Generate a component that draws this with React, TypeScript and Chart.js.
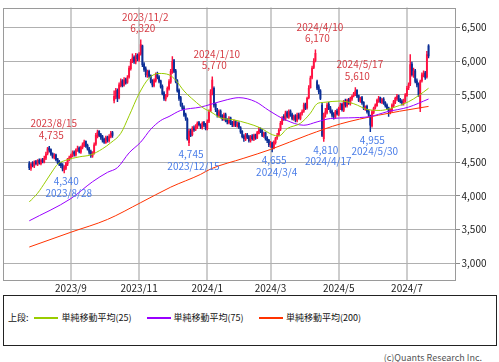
import React, { useEffect, useRef } from 'react';
import { Chart, registerables } from 'chart.js';
Chart.register(...registerables);

// Daily OHLC (trading-day index 0 = 2023/7/27)
const opens = [
  4480, 4410, 4490, 4440, 4510, 4470, 4530, 4480, 4540, 4500,
  4560, 4630, 4710, 4690, 4630, 4570, 4610, 4550, 4510, 4480,
  4460, 4380, 4410, 4470, 4550, 4570, 4600, 4650, 4610, 4690,
  4710, 4650, 4720, 4750, 4810, 4750, 4700, 4660, 4590, 4640,
  4770, 4880, 4960, 4910, 4880, 4840, 4790, 4870, 4820, 4880,
  4940, 5420, 5470, 5570, 5460, 5640, 5710, 5650, 5730, 5690,
  5770, 5890, 6010, 6060, 5990, 6090, 6030, 6110, 6230, 5960,
  5890, 5790, 5850, 5790, 5710, 5640, 5710, 5810, 5770, 5710,
  5630, 5530, 5440, 5490, 5590, 5690, 5840, 6010, 5860, 5710,
  5570, 5460, 5340, 5310, 5210, 5140, 4790, 4970, 4910, 5010,
  4990, 5020, 5090, 5050, 5010, 5090, 5060, 5000, 5110, 5260,
  5560, 5600, 5360, 5270, 5190, 5260, 5190, 5140, 5210, 5130,
  5090, 5160, 5090, 5050, 5110, 5040, 5080, 5010, 4960, 4890,
  4840, 4910, 4880, 4820, 4890, 4840, 4910, 4860, 4930, 4990,
  4970, 4890, 4940, 4860, 4830, 4750, 4790, 4710, 4790, 4860,
  4910, 4990, 5070, 5180, 5140, 5240, 5170, 5260, 5210, 5140,
  5190, 5120, 5210, 5150, 5230, 5260, 5360, 5310, 5460, 5610,
  5760, 5910, 6010, 5700, 5620, 5560, 5350, 4850, 5210, 5240,
  5360, 5310, 5260, 5210, 5170, 5260, 5210, 5290, 5360, 5270,
  5410, 5340, 5430, 5370, 5440, 5490, 5510, 5570, 5490, 5410,
  5460, 5390, 5290, 5330, 5260, 5190, 5040, 5240, 5310, 5340,
  5410, 5460, 5390, 5440, 5390, 5350, 5310, 5240, 5270, 5340,
  5390, 5440, 5490, 5430, 5410, 5370, 5410, 5490, 5610, 5660,
  5960, 5790, 5860, 5710, 5660, 5300, 5710, 5790, 5830, 5770,
  6230,
];
const highs = [
  4510, 4490, 4510, 4520, 4530, 4540, 4550, 4550, 4560, 4590,
  4650, 4720, 4735, 4700, 4640, 4630, 4620, 4560, 4530, 4500,
  4480, 4450, 4500, 4560, 4590, 4620, 4670, 4670, 4700, 4740,
  4730, 4740, 4790, 4830, 4820, 4770, 4720, 4680, 4660, 4790,
  4930, 4980, 4970, 4930, 4900, 4860, 4890, 4890, 4910, 4960,
  4960, 5560, 5600, 5590, 5680, 5740, 5730, 5760, 5750, 5790,
  5930, 6030, 6110, 6080, 6120, 6110, 6130, 6320, 6240, 5980,
  5920, 5870, 5870, 5800, 5730, 5740, 5830, 5840, 5790, 5720,
  5650, 5550, 5510, 5620, 5730, 5880, 6070, 6030, 5880, 5730,
  5590, 5480, 5380, 5340, 5230, 5160, 4990, 4990, 5030, 5040,
  5060, 5100, 5110, 5070, 5100, 5110, 5080, 5130, 5280, 5580,
  5770, 5620, 5380, 5300, 5280, 5280, 5210, 5230, 5230, 5150,
  5180, 5170, 5110, 5130, 5120, 5100, 5100, 5030, 4970, 4910,
  4930, 4930, 4900, 4900, 4910, 4920, 4920, 4960, 5020, 5010,
  4990, 4950, 4950, 4880, 4840, 4810, 4800, 4820, 4870, 4930,
  5000, 5110, 5180, 5210, 5260, 5260, 5280, 5280, 5230, 5200,
  5210, 5230, 5230, 5240, 5280, 5380, 5380, 5470, 5640, 5780,
  5930, 6040, 6170, 5720, 5650, 5580, 5380, 5230, 5300, 5380,
  5390, 5330, 5280, 5240, 5270, 5290, 5320, 5380, 5380, 5420,
  5440, 5440, 5450, 5470, 5500, 5540, 5610, 5580, 5500, 5470,
  5480, 5400, 5340, 5350, 5280, 5200, 5270, 5320, 5370, 5440,
  5480, 5470, 5450, 5460, 5400, 5370, 5320, 5290, 5370, 5420,
  5470, 5510, 5500, 5450, 5430, 5440, 5520, 5630, 5680, 6100,
  5990, 5900, 5880, 5740, 5680, 5720, 5830, 5860, 5850, 6150,
  6250,
];
const lows = [
  4390, 4380, 4430, 4420, 4460, 4450, 4470, 4460, 4490, 4490,
  4540, 4610, 4650, 4600, 4560, 4550, 4520, 4480, 4450, 4420,
  4370, 4340, 4390, 4450, 4520, 4550, 4580, 4590, 4590, 4660,
  4640, 4630, 4700, 4730, 4720, 4680, 4620, 4570, 4570, 4620,
  4750, 4860, 4880, 4840, 4800, 4780, 4780, 4800, 4800, 4860,
  4870, 5380, 5440, 5400, 5440, 5620, 5620, 5630, 5660, 5670,
  5750, 5870, 5980, 5970, 5960, 6010, 6000, 6090, 5920, 5850,
  5770, 5760, 5760, 5680, 5620, 5620, 5690, 5740, 5680, 5600,
  5500, 5420, 5410, 5470, 5570, 5670, 5820, 5830, 5680, 5540,
  5420, 5330, 5280, 5180, 5120, 4830, 4745, 4880, 4890, 4960,
  4970, 5000, 5040, 5000, 4990, 5030, 4980, 4980, 5090, 5250,
  5500, 5320, 5250, 5170, 5170, 5160, 5120, 5120, 5100, 5070,
  5070, 5060, 5030, 5030, 5030, 5020, 5000, 4930, 4860, 4810,
  4820, 4850, 4800, 4800, 4830, 4820, 4840, 4850, 4920, 4940,
  4880, 4870, 4830, 4790, 4730, 4720, 4655, 4700, 4770, 4840,
  4890, 4970, 5060, 5120, 5120, 5160, 5150, 5180, 5130, 5120,
  5100, 5100, 5140, 5130, 5200, 5240, 5280, 5290, 5440, 5600,
  5740, 5890, 5990, 5580, 5520, 5430, 4880, 4810, 5170, 5220,
  5280, 5230, 5170, 5140, 5150, 5200, 5190, 5280, 5260, 5250,
  5320, 5320, 5360, 5350, 5420, 5470, 5490, 5460, 5400, 5390,
  5360, 5280, 5270, 5230, 5180, 4955, 5020, 5220, 5290, 5330,
  5390, 5380, 5370, 5360, 5320, 5280, 5180, 5220, 5250, 5320,
  5370, 5420, 5400, 5380, 5350, 5350, 5390, 5480, 5580, 5640,
  5780, 5760, 5680, 5620, 5480, 5250, 5690, 5770, 5730, 5750,
  6050,
];
const closes = [
  4420, 4470, 4450, 4500, 4480, 4520, 4490, 4530, 4510, 4560,
  4620, 4700, 4680, 4620, 4580, 4600, 4540, 4500, 4470, 4450,
  4400, 4420, 4480, 4540, 4560, 4600, 4640, 4620, 4680, 4700,
  4660, 4720, 4760, 4800, 4740, 4700, 4650, 4600, 4640, 4760,
  4900, 4950, 4900, 4870, 4830, 4800, 4860, 4830, 4880, 4930,
  4900, 5480, 5560, 5450, 5650, 5700, 5640, 5720, 5680, 5760,
  5900, 6000, 6050, 6000, 6080, 6040, 6100, 6250, 5950, 5880,
  5800, 5840, 5780, 5700, 5650, 5720, 5800, 5760, 5700, 5620,
  5520, 5450, 5480, 5600, 5700, 5850, 6000, 5850, 5700, 5560,
  5450, 5350, 5300, 5200, 5150, 4850, 4960, 4900, 5000, 4980,
  5030, 5080, 5060, 5020, 5080, 5050, 5000, 5100, 5250, 5550,
  5720, 5350, 5280, 5200, 5250, 5180, 5150, 5200, 5120, 5100,
  5150, 5080, 5060, 5100, 5050, 5070, 5020, 4950, 4880, 4850,
  4900, 4870, 4820, 4880, 4850, 4900, 4860, 4940, 4980, 4960,
  4900, 4930, 4850, 4820, 4760, 4780, 4720, 4800, 4850, 4900,
  4980, 5080, 5150, 5150, 5230, 5180, 5250, 5200, 5150, 5180,
  5130, 5200, 5160, 5220, 5250, 5350, 5300, 5450, 5600, 5750,
  5900, 6000, 6120, 5600, 5550, 5450, 4900, 5200, 5250, 5350,
  5300, 5250, 5200, 5180, 5250, 5220, 5300, 5350, 5280, 5400,
  5350, 5420, 5380, 5450, 5480, 5520, 5560, 5480, 5420, 5450,
  5380, 5300, 5320, 5250, 5200, 5050, 5250, 5300, 5350, 5420,
  5450, 5400, 5430, 5380, 5340, 5300, 5250, 5280, 5350, 5400,
  5450, 5480, 5420, 5400, 5380, 5420, 5500, 5600, 5650, 5950,
  5800, 5850, 5700, 5650, 5500, 5700, 5800, 5820, 5760, 6100,
  6080,
];

// Moving averages (points read at trading-day indices)
const ma25Idx = [0, 5, 10, 14, 17, 22, 30, 37, 44, 49, 55, 60, 66, 72, 78, 84, 88, 93, 99, 105, 109, 115, 123, 131, 139, 146, 150, 155, 163, 169, 173, 177, 187, 195, 204, 211, 217, 228, 234, 240];
const ma25Val = [3910, 4040, 4220, 4370, 4470, 4530, 4580, 4610, 4700, 4790, 4930, 5190, 5520, 5750, 5820, 5800, 5720, 5560, 5420, 5300, 5250, 5160, 5130, 5080, 5010, 4910, 4890, 5000, 5080, 5230, 5370, 5390, 5410, 5370, 5280, 5270, 5300, 5400, 5490, 5600];
const ma75Idx = [0, 25, 38, 47, 53, 60, 67, 73, 79, 84, 91, 103, 109, 119, 126, 136, 144, 154, 165, 173, 181, 192, 205, 215, 228, 240];
const ma75Val = [3630, 3960, 4210, 4350, 4420, 4640, 4800, 4990, 5120, 5180, 5270, 5320, 5360, 5430, 5460, 5400, 5270, 5130, 5050, 5100, 5150, 5160, 5180, 5250, 5320, 5440];
const ma200Idx = [0, 25, 47, 67, 85, 103, 109, 129, 145, 168, 187, 210, 235, 240];
const ma200Val = [3240, 3460, 3650, 3900, 4130, 4320, 4400, 4560, 4690, 4910, 5070, 5200, 5310, 5330];

// Axis ticks
const monthTickIdx = [25, 66, 107, 145, 186, 227];
const monthTickLabels = ['2023/9', '2023/11', '2024/1', '2024/3', '2024/5', '2024/7'];
const priceTicks = [3000, 3500, 4000, 4500, 5000, 5500, 6000, 6500];

// High / low annotations
const peakIdx = [12, 67, 110, 172, 196];
const peakDates = ['2023/8/15', '2023/11/2', '2024/1/10', '2024/4/10', '2024/5/17'];
const peakVals = [4735, 6320, 5770, 6170, 5610];
const troughIdx = [21, 96, 146, 177, 205];
const troughDates = ['2023/8/28', '2023/12/15', '2024/3/4', '2024/4/17', '2024/5/30'];
const troughVals = [4340, 4745, 4655, 4810, 4955];

const UP = '#ff1040';
const DOWN = '#0c2f96';
const C25 = '#99cc00';
const C75 = '#9900ff';
const C200 = '#ff3300';
const FONT = "'Noto Sans CJK JP', 'Noto Sans', sans-serif";

const fmt = (v: number) => v.toLocaleString('en-US');

export default function App() {
  const ref = useRef<HTMLCanvasElement | null>(null);

  useEffect(() => {
    if (!ref.current) return;
    const days = closes.map((_, i) => i);
    const colorOf = (i: number) => (closes[i] >= opens[i] ? UP : DOWN);

    const framePlugin = {
      id: 'frame',
      beforeDatasetsDraw(chart: any) {
        const { ctx, chartArea: a } = chart;
        ctx.save();
        ctx.strokeStyle = '#9a9a9a';
        ctx.lineWidth = 1;
        ctx.strokeRect(Math.round(a.left) + 0.5, Math.round(a.top) + 0.5, Math.round(a.right - a.left) - 1, Math.round(a.bottom - a.top) - 1);
        ctx.restore();
      },
    };

    const labelPlugin = {
      id: 'hilo',
      afterDatasetsDraw(chart: any) {
        const { ctx } = chart;
        const xs = chart.scales.x;
        const ys = chart.scales.y;
        ctx.save();
        ctx.font = `10px ${FONT}`;
        ctx.textAlign = 'center';
        ctx.textBaseline = 'middle';
        peakIdx.forEach((d, k) => {
          const x = xs.getPixelForValue(d);
          const y = ys.getPixelForValue(peakVals[k]);
          ctx.fillStyle = '#d63c44';
          ctx.fillText(peakDates[k], x + 4.5, y - 23);
          ctx.fillText(fmt(peakVals[k]), x + 2, y - 11.5);
        });
        troughIdx.forEach((d, k) => {
          const x = xs.getPixelForValue(d);
          const y = ys.getPixelForValue(troughVals[k]);
          ctx.fillStyle = '#4a7de8';
          ctx.fillText(fmt(troughVals[k]), x + 2, y + 8.5);
          ctx.fillText(troughDates[k], x + 4.5, y + 20);
        });
        ctx.restore();
      },
    };

    const line = (idx: number[], val: number[], color: string) => ({
      type: 'line' as const,
      data: idx.map((x, k) => ({ x, y: val[k] })),
      borderColor: color,
      borderWidth: 1,
      pointRadius: 0,
      cubicInterpolationMode: 'monotone' as const,
      order: 0,
    });

    const chart = new Chart(ref.current, {
      type: 'bar',
      data: {
        datasets: [
          line(ma25Idx, ma25Val, C25),
          line(ma75Idx, ma75Val, C75),
          line(ma200Idx, ma200Val, C200),
          {
            type: 'bar',
            data: days.map((i) => ({ x: i, y: [lows[i], highs[i]] })) as any,
            backgroundColor: days.map(colorOf),
            barThickness: 0.8,
            grouped: false,
            order: 2,
          },
          {
            type: 'bar',
            data: days.map((i) => ({ x: i, y: [opens[i], closes[i]] })) as any,
            backgroundColor: days.map(colorOf),
            barThickness: 1.2,
            minBarLength: 1,
            grouped: false,
            order: 1,
          },
        ] as any,
      },
      options: {
        responsive: false,
        animation: false,
        events: [],
        layout: { padding: { left: 3, top: 1, right: 0, bottom: 0 } },
        plugins: { legend: { display: false }, tooltip: { enabled: false } },
        scales: {
          x: {
            type: 'linear',
            min: -15.8,
            max: 256.5,
            offset: false,
            grid: { color: '#cdcdcd', lineWidth: 2, drawTicks: false, offset: false },
            border: { display: false },
            afterBuildTicks: (s: any) => {
              s.ticks = monthTickIdx.map((v) => ({ value: v }));
            },
            afterFit: (s: any) => {
              s.height = 14;
            },
            ticks: {
              autoSkip: false,
              maxRotation: 0,
              padding: 2,
              color: '#222',
              font: { family: FONT, size: 10 },
              callback: (v: any) => {
                const k = monthTickIdx.indexOf(Number(v));
                return k >= 0 ? monthTickLabels[k] : '';
              },
            },
          },
          y: {
            type: 'linear',
            position: 'right',
            min: 2750,
            max: 6800,
            grid: { color: '#b0b0b0', lineWidth: 1, drawTicks: true, tickLength: 4, tickColor: '#8a8a8a' },
            border: { display: false },
            afterBuildTicks: (s: any) => {
              s.ticks = priceTicks.map((v) => ({ value: v }));
            },
            afterFit: (s: any) => {
              s.width = 43;
            },
            ticks: {
              padding: 1.5,
              color: '#222',
              font: { family: FONT, size: 10 },
              callback: (v: any) => fmt(Number(v)),
            },
          },
        },
      } as any,
      plugins: [framePlugin, labelPlugin],
    });
    return () => chart.destroy();
  }, []);

  const legendText: React.CSSProperties = { position: 'absolute', top: 311, fontSize: 9, lineHeight: '13px', color: '#111', whiteSpace: 'nowrap' };
  const legendLine = (left: number, color: string): React.CSSProperties => ({ position: 'absolute', left, top: 317, width: 24, height: 1.5, backgroundColor: color });

  return (
    <div style={{ position: 'absolute', left: 0, top: 0, width: 499, height: 362, background: '#fff', fontFamily: FONT, overflow: 'hidden' }}>
      <canvas ref={ref} width={499} height={294} style={{ position: 'absolute', left: 0, top: 0, width: 499, height: 294 }} />
      <div style={{ position: 'absolute', left: 3, top: 295, width: 494, height: 51, border: '1px solid #222', boxSizing: 'border-box' }} />
      <div style={{ ...legendText, left: 8 }}>上段:</div>
      <div style={legendLine(34, C25)} />
      <div style={{ ...legendText, left: 61.5 }}>単純移動平均(25)</div>
      <div style={legendLine(146.5, C75)} />
      <div style={{ ...legendText, left: 173.5 }}>単純移動平均(75)</div>
      <div style={legendLine(259, C200)} />
      <div style={{ ...legendText, left: 286 }}>単純移動平均(200)</div>
      <div style={{ position: 'absolute', right: 17, top: 351, fontSize: 9, lineHeight: '13px', color: '#555', whiteSpace: 'nowrap' }}>(c)Quants Research Inc.</div>
    </div>
  );
}
